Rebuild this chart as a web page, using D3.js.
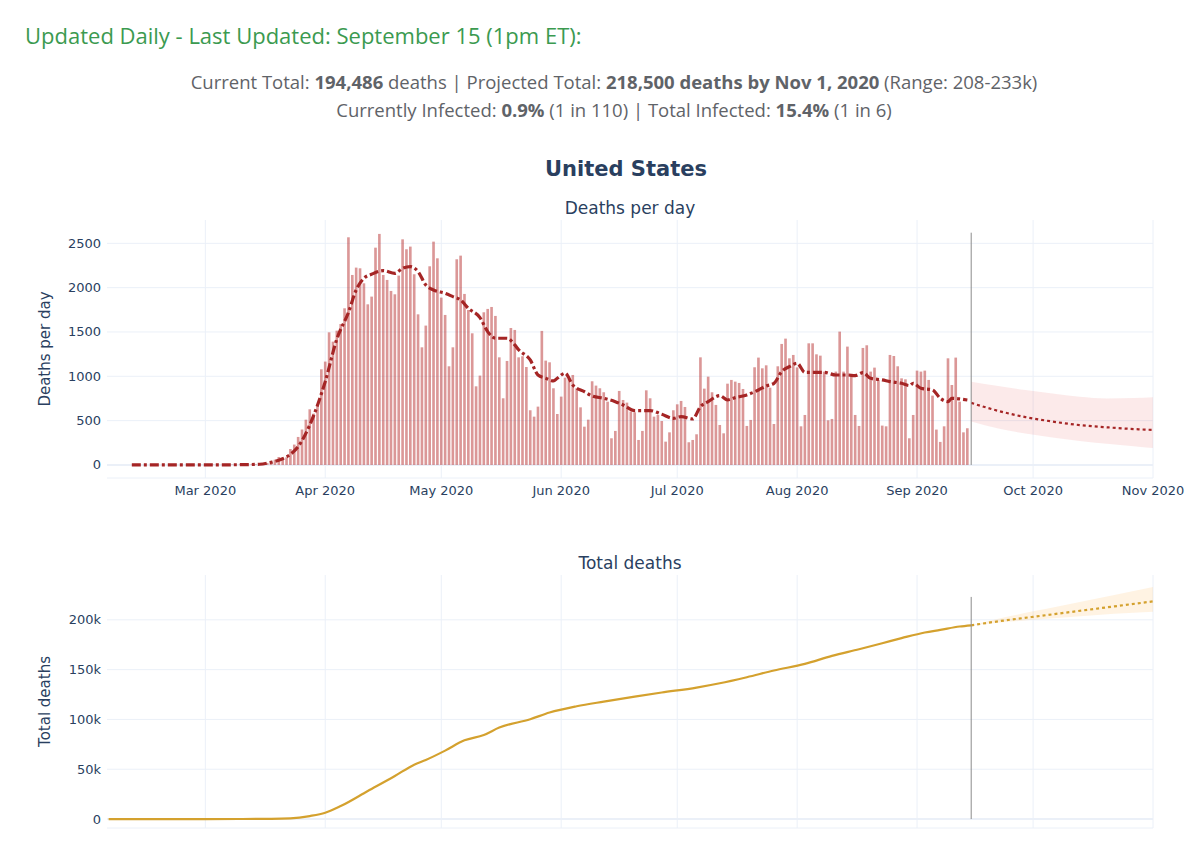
<!DOCTYPE html>
<html><head><meta charset="utf-8">
<script src="https://cdn.jsdelivr.net/npm/d3@7"></script>
<style>body{margin:0;background:#fff}svg{display:block}</style>
</head><body>
<svg id="c" width="1200" height="848"></svg>
<script>
// ---------------- DATA ----------------
const dailyStart = "2020-02-29";
const dailyEnd = "2020-09-15"; // exclusive
const dailyDeaths = [
  1,
  // March
  1,4,3,2,1,2,3,4,1,6,8,4,7,7,9,22,23,30,60,90,80,86,180,230,316,400,511,628,579,684,1079,
  // April
  1166,1496,1391,1515,1590,1767,2568,2143,2226,2218,2049,1812,1899,2451,2606,2143,2087,1963,1925,2136,2545,2433,2463,2151,1699,1327,1572,2241,2519,2331,
  // May
  1888,1692,1113,1327,2320,2361,1929,1748,1485,887,1008,1722,1760,1782,1681,1214,752,1173,1545,1523,1214,1226,1105,617,545,658,1512,1177,1158,865,575,
  // June
  771,985,970,1015,865,650,432,511,944,895,865,820,714,301,384,835,733,703,602,594,282,384,842,752,545,564,496,263,368,617,
  // July
  684,722,654,256,282,346,1214,861,996,820,677,451,357,917,959,940,925,857,440,508,1102,1211,1090,1124,872,462,1113,1365,1425,1203,1241,
  // August
  1100,436,564,1372,1372,1248,1233,1053,504,519,1053,1504,1053,1335,1008,564,440,1320,1350,1053,1098,959,444,436,1241,1229,1113,977,966,301,564,
  // September
  1064,1053,1064,959,782,399,260,436,1203,902,1211,714,368,414
];

const avgDates = ["2020-02-11","2020-03-01","2020-03-10","2020-03-15","2020-03-18","2020-03-21","2020-03-23","2020-03-25","2020-03-28","2020-04-01","2020-04-04","2020-04-07","2020-04-09","2020-04-11","2020-04-13","2020-04-16","2020-04-19","2020-04-21","2020-04-23","2020-04-25","2020-04-27","2020-04-29","2020-05-02","2020-05-04","2020-05-06","2020-05-08","2020-05-11","2020-05-13","2020-05-15","2020-05-18","2020-05-20","2020-05-21","2020-05-24","2020-05-26","2020-05-28","2020-05-30","2020-05-31","2020-06-02","2020-06-04","2020-06-07","2020-06-09","2020-06-12","2020-06-15","2020-06-17","2020-06-20","2020-06-24","2020-06-27","2020-06-30","2020-07-02","2020-07-05","2020-07-07","2020-07-09","2020-07-12","2020-07-14","2020-07-16","2020-07-19","2020-07-22","2020-07-24","2020-07-26","2020-07-28","2020-07-30","2020-08-01","2020-08-03","2020-08-05","2020-08-08","2020-08-11","2020-08-14","2020-08-16","2020-08-18","2020-08-20","2020-08-23","2020-08-25","2020-08-28","2020-08-30","2020-08-31","2020-09-02","2020-09-05","2020-09-07","2020-09-09","2020-09-10","2020-09-12","2020-09-14"];
const avgValues = [0,1,3,8,30,70,120,207,451,940,1420,1720,1974,2106,2151,2192,2162,2218,2237,2181,2030,1974,1936,1899,1861,1767,1662,1504,1429,1429,1354,1300,1184,1015,978,948,978,1034,902,827,778,752,714,677,613,613,572,526,545,519,658,714,782,733,760,790,846,891,921,1053,1109,1147,1045,1045,1045,1015,1015,1008,1041,978,959,940,921,895,921,865,846,752,714,752,745,733];

const projDates = ["2020-09-15","2020-09-22","2020-09-29","2020-10-06","2020-10-13","2020-10-20","2020-10-27","2020-11-01"];
const projDaily = [700,610,540,490,450,425,405,395];
const projDailyLow = [490,410,355,310,270,240,210,190];
const projDailyHigh = [940,890,845,805,770,750,755,765];

const totalDates = ["2020-02-05","2020-03-01","2020-03-10","2020-03-18","2020-03-23","2020-03-28","2020-04-01","2020-04-05","2020-04-12","2020-04-19","2020-04-24","2020-04-27","2020-05-02","2020-05-07","2020-05-12","2020-05-16","2020-05-24","2020-05-29","2020-06-05","2020-06-12","2020-06-20","2020-06-27","2020-07-06","2020-07-12","2020-07-19","2020-07-26","2020-08-03","2020-08-10","2020-08-17","2020-08-23","2020-08-28","2020-09-03","2020-09-07","2020-09-12","2020-09-15"];
const totalValues = [0,1,30,150,670,3000,6300,13000,28100,43200,54600,59300,68700,79000,84400,91800,100200,106900,113200,117900,122900,127000,132000,136300,142400,149100,155800,163800,170500,176500,181600,187300,189900,193300,194486];

const projTotalDates = ["2020-09-15","2020-09-22","2020-10-01","2020-10-08","2020-10-15","2020-10-22","2020-11-01"];
const projTotal = [194486,198500,203000,206500,210000,213500,218500];
const projTotalLow = [194486,197000,200000,202000,204000,206000,208000];
const projTotalHigh = [194486,201000,208500,214000,219500,225000,233000];

const monthTicks = ["2020-03-01","2020-04-01","2020-05-01","2020-06-01","2020-07-01","2020-08-01","2020-09-01","2020-10-01","2020-11-01"];
const dailyTicks = [0,500,1000,1500,2000,2500];
const totalTicks = [0,50000,100000,150000,200000];
const totalTickLabels = ["0","50k","100k","150k","200k"];
const todayDate = "2020-09-15";
const todayLineTop = [2620, 223000];

// ---------------- DRAW ----------------
const parse = d3.timeParse("%Y-%m-%d");
const svg = d3.select("#c");
const FONT = "'DejaVu Sans', Verdana, sans-serif";
const TXT = "#2a3f5f";
const GRID = "#ebf0f8";

// header
svg.append("text").attr("x",25).attr("y",44).attr("font-family","'Open Sans', sans-serif")
  .attr("font-size",22).attr("fill","#3b9a50").text("Updated Daily - Last Updated: September 15 (1pm ET):");

function richLine(y, parts){
  const t = svg.append("text").attr("x",614).attr("y",y).attr("text-anchor","middle")
    .attr("font-family","'Open Sans', sans-serif").attr("font-size",18.5).attr("fill","#5f6368");
  parts.forEach(p => t.append("tspan").attr("font-weight", p[1] ? 700 : 400).text(p[0]));
}
richLine(89, [["Current Total: ",0],["194,486",1],[" deaths | Projected Total: ",0],["218,500 deaths by Nov 1, 2020",1],[" (Range: 208-233k)",0]]);
richLine(117, [["Currently Infected: ",0],["0.9%",1],[" (1 in 110) | Total Infected: ",0],["15.4%",1],[" (1 in 6)",0]]);

svg.append("text").attr("x",626).attr("y",176).attr("text-anchor","middle").attr("font-family",FONT)
  .attr("font-size",21).attr("font-weight",700).attr("fill",TXT).text("United States");

const x = d3.scaleTime().domain([new Date(2020,1,4,14), new Date(2020,10,1)]).range([107,1153]);
const dayW = x(new Date(2020,5,2)) - x(new Date(2020,5,1));

function panel(top, bottom, yDomain, ticks, tickLabels, title, ytitle, showX){
  const y = d3.scaleLinear().domain(yDomain).range([bottom, top]);
  const g = svg.append("g");
  // vertical gridlines
  g.selectAll(".vg").data(monthTicks.map(parse)).join("line")
    .attr("x1",d=>x(d)).attr("x2",d=>x(d)).attr("y1",top).attr("y2",bottom)
    .attr("stroke",GRID).attr("stroke-width",1);
  g.selectAll(".hg").data(ticks).join("line")
    .attr("x1",107).attr("x2",1153).attr("y1",d=>y(d)).attr("y2",d=>y(d))
    .attr("stroke",GRID).attr("stroke-width",d=>d===0?2:1);
  g.append("line").attr("x1",107).attr("x2",1153).attr("y1",bottom).attr("y2",bottom).attr("stroke",GRID);
  // y ticks
  g.selectAll(".yt").data(ticks).join("text")
    .attr("x",101).attr("y",d=>y(d)+4.5).attr("text-anchor","end").attr("font-family",FONT)
    .attr("font-size",13).attr("fill",TXT).text((d,i)=>tickLabels[i]);
  if(showX){
    g.selectAll(".xt").data(monthTicks.map(parse)).join("text")
      .attr("x",d=>x(d)).attr("y",bottom+17).attr("text-anchor","middle").attr("font-family",FONT)
      .attr("font-size",13).attr("fill",TXT).text(d=>d3.timeFormat("%b %Y")(d));
  }
  svg.append("text").attr("x",630).attr("y",top-6).attr("text-anchor","middle").attr("font-family",FONT)
    .attr("font-size",17).attr("fill",TXT).text(title);
  const cy = (top+bottom)/2;
  svg.append("text").attr("transform",`translate(50,${cy}) rotate(-90)`).attr("text-anchor","middle")
    .attr("font-family",FONT).attr("font-size",15).attr("fill",TXT).text(ytitle);
  return y;
}

// ---- top panel
const y1 = panel(220, 478, [-147, 2763], dailyTicks, dailyTicks.map(String), "Deaths per day", "Deaths per day", true);
const dDates = d3.timeDay.range(parse(dailyStart), parse(dailyEnd));
const bw = dayW*0.68;
svg.append("g").selectAll("rect").data(dailyDeaths).join("rect")
  .attr("x",(d,i)=>x(dDates[i])-bw/2).attr("width",bw)
  .attr("y",d=>y1(d)).attr("height",d=>y1(0)-y1(d))
  .attr("fill","rgba(178,34,34,0.47)");

const pd = projDates.map(parse);
svg.append("path").datum(pd.map((d,i)=>[d,projDailyLow[i],projDailyHigh[i]]))
  .attr("d", d3.area().x(d=>x(d[0])).y0(d=>y1(d[1])).y1(d=>y1(d[2])).curve(d3.curveMonotoneX))
  .attr("fill","rgba(235,90,90,0.13)");
svg.append("path").datum(pd.map((d,i)=>[d,projDaily[i]]))
  .attr("d", d3.line().x(d=>x(d[0])).y(d=>y1(d[1])).curve(d3.curveMonotoneX))
  .attr("fill","none").attr("stroke","#a52525").attr("stroke-width",2.2).attr("stroke-dasharray","3,3");

svg.append("path").datum(avgDates.map((d,i)=>[parse(d),avgValues[i]]))
  .attr("d", d3.line().x(d=>x(d[0])).y(d=>y1(d[1])).curve(d3.curveMonotoneX))
  .attr("fill","none").attr("stroke","#a52525").attr("stroke-width",3.2).attr("stroke-dasharray","9,3,3,3");

svg.append("line").attr("x1",x(parse(todayDate))).attr("x2",x(parse(todayDate)))
  .attr("y1",y1(todayLineTop[0])).attr("y2",y1(0)).attr("stroke","#8c8c8c").attr("stroke-width",1);

// ---- bottom panel
const y2 = panel(575, 828, [-9000, 245000], totalTicks, totalTickLabels, "Total deaths", "Total deaths", false);
const ptd = projTotalDates.map(parse);
svg.append("path").datum(ptd.map((d,i)=>[d,projTotalLow[i],projTotalHigh[i]]))
  .attr("d", d3.area().x(d=>x(d[0])).y0(d=>y2(d[1])).y1(d=>y2(d[2])).curve(d3.curveMonotoneX))
  .attr("fill","rgba(255,165,40,0.13)");
svg.append("path").datum(ptd.map((d,i)=>[d,projTotal[i]]))
  .attr("d", d3.line().x(d=>x(d[0])).y(d=>y2(d[1])).curve(d3.curveMonotoneX))
  .attr("fill","none").attr("stroke","#d4a12e").attr("stroke-width",2.2).attr("stroke-dasharray","3,3");
svg.append("path").datum(totalDates.map((d,i)=>[parse(d),totalValues[i]]))
  .attr("d", d3.line().x(d=>x(d[0])).y(d=>y2(d[1])).curve(d3.curveMonotoneX))
  .attr("fill","none").attr("stroke","#d4a12e").attr("stroke-width",2.2);
svg.append("line").attr("x1",x(parse(todayDate))).attr("x2",x(parse(todayDate)))
  .attr("y1",y2(todayLineTop[1])).attr("y2",y2(0)).attr("stroke","#8c8c8c").attr("stroke-width",1);
</script>
</body></html>
